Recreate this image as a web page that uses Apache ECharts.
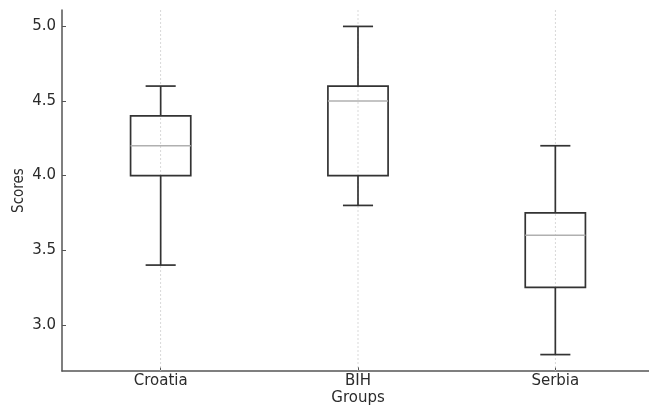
<!DOCTYPE html>
<html>
<head>
<meta charset="utf-8">
<script src="https://cdn.jsdelivr.net/npm/echarts@6/dist/echarts.min.js"></script>
<style>
html,body{margin:0;padding:0;background:#fff;}
#chart{width:649px;height:406px;}
</style>
</head>
<body>
<div id="chart"></div>
<script>
const categories = ['Croatia', 'BIH', 'Serbia'];
const lowWhisker = [3.4, 3.8, 2.8];
const q1 = [4.0, 4.0, 3.25];
const median = [4.2, 4.5, 3.6];
const q3 = [4.4, 4.6, 3.75];
const highWhisker = [4.6, 5.0, 4.2];
const yTicks = [3.0, 3.5, 4.0, 4.5, 5.0];
const yMin = 2.69, yMax = 5.11;

const boxData = categories.map((c, i) => [i, lowWhisker[i], q1[i], median[i], q3[i], highWhisker[i]]);

const chart = echarts.init(document.getElementById('chart'), null, {renderer: 'canvas'});
const font = "'DejaVu Sans', sans-serif";
chart.setOption({
  animation: false,
  backgroundColor: '#ffffff',
  grid: {left: 62, top: 10, width: 592, height: 361, containLabel: false, outerBoundsMode: 'none'},
  xAxis: {
    type: 'category',
    data: categories,
    boundaryGap: true,
    name: 'Groups',
    nameLocation: 'middle',
    nameGap: 20,
    nameMoveOverlap: false,
    nameTextStyle: {fontFamily: font, fontSize: 15, color: '#2b2b2b'},
    axisLine: {lineStyle: {color: '#555', width: 1.5}},
    axisTick: {show: true, inside: true, alignWithLabel: true, length: 4, lineStyle: {color: '#555'}},
    axisLabel: {fontFamily: font, fontSize: 15, color: '#2b2b2b', margin: 3},
    splitLine: {show: false}
  },
  yAxis: {
    type: 'value',
    min: yMin,
    max: yMax,
    name: 'Scores',
    nameLocation: 'middle',
    nameRotate: 90,
    nameGap: 35,
    nameMoveOverlap: false,
    nameTextStyle: {fontFamily: "'DejaVu Sans Condensed', 'Liberation Sans Narrow', 'Open Sans', sans-serif", fontSize: 15, color: '#2b2b2b'},
    axisLine: {show: true, lineStyle: {color: '#555', width: 1.5}},
    axisTick: {show: true, inside: true, length: 4, customValues: yTicks, lineStyle: {color: '#555'}},
    axisLabel: {fontFamily: font, fontSize: 15, color: '#2b2b2b', margin: 6, customValues: yTicks,
      formatter: v => Number(v).toFixed(1)},
    splitLine: {show: false}
  },
  series: [{
    type: 'custom',
    data: boxData,
    clip: false,
    renderItem: function (params, api) {
      const x = api.value(0);
      const band = api.size([1, 0])[0];
      const bw = band * 0.305;
      const cw = bw * 0.5;
      const pTop = api.coord([x, yMax]);
      const pBot = api.coord([x, yMin]);
      const pLow = api.coord([x, api.value(1)]);
      const pQ1 = api.coord([x, api.value(2)]);
      const pMed = api.coord([x, api.value(3)]);
      const pQ3 = api.coord([x, api.value(4)]);
      const pHigh = api.coord([x, api.value(5)]);
      const cx = pLow[0];
      const stroke = {stroke: '#333', lineWidth: 1.7, fill: null};
      return {
        type: 'group',
        children: [
          {type: 'line', shape: {x1: cx, y1: pTop[1], x2: cx, y2: pBot[1]},
            style: {stroke: '#cfcfcf', lineWidth: 0.8, lineDash: [2, 2]}},
          {type: 'line', shape: {x1: cx, y1: pHigh[1], x2: cx, y2: pQ3[1]}, style: stroke},
          {type: 'line', shape: {x1: cx, y1: pQ1[1], x2: cx, y2: pLow[1]}, style: stroke},
          {type: 'line', shape: {x1: cx - cw / 2, y1: pHigh[1], x2: cx + cw / 2, y2: pHigh[1]}, style: stroke},
          {type: 'line', shape: {x1: cx - cw / 2, y1: pLow[1], x2: cx + cw / 2, y2: pLow[1]}, style: stroke},
          {type: 'rect', shape: {x: cx - bw / 2, y: pQ3[1], width: bw, height: pQ1[1] - pQ3[1]},
            style: {stroke: '#333', lineWidth: 1.7, fill: null}},
          {type: 'line', shape: {x1: cx - bw / 2, y1: pMed[1], x2: cx + bw / 2, y2: pMed[1]},
            style: {stroke: '#b0b0b0', lineWidth: 1.6}}
        ]
      };
    }
  }]
});
</script>
</body>
</html>
